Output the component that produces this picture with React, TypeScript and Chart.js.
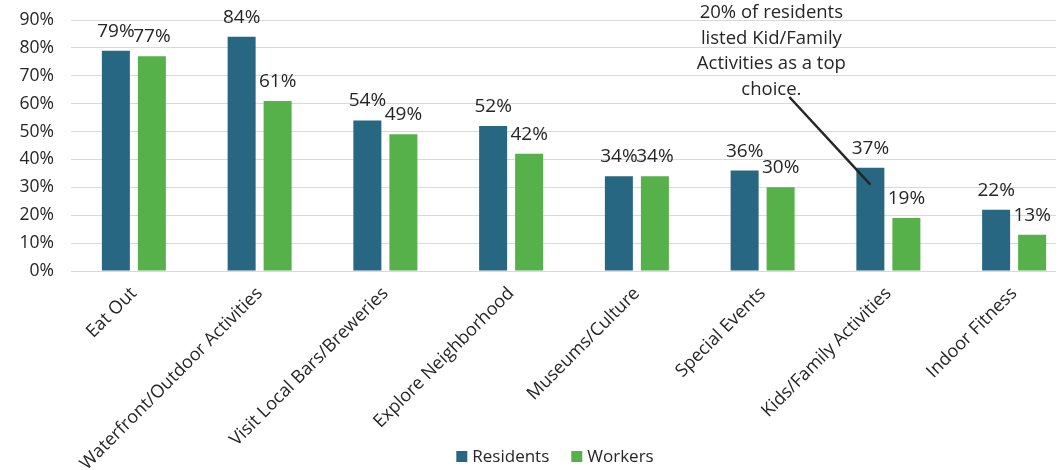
import React, { useEffect, useRef } from "react";
import { Chart, registerables } from "chart.js";

Chart.register(...registerables);

const CATEGORIES = [
  "Eat Out",
  "Waterfront/Outdoor Activities",
  "Visit Local Bars/Breweries",
  "Explore Neighborhood",
  "Museums/Culture",
  "Special Events",
  "Kids/Family Activities",
  "Indoor Fitness",
];
const RESIDENTS = [79, 84, 54, 52, 34, 36, 37, 22];
const WORKERS = [77, 61, 49, 42, 34, 30, 19, 13];
const SERIES_NAMES = ["Residents", "Workers"];
const Y_TICKS = [0, 10, 20, 30, 40, 50, 60, 70, 80, 90];

const ANNOTATION_LINES = [
  "20% of residents",
  "listed Kid/Family",
  "Activities as a top",
  "choice.",
];
const ANNOTATION_CATEGORY = "Kids/Family Activities";
const ANNOTATION_POINT_VALUE = 31;

const FONT = "'Open Sans', 'Noto Sans', sans-serif";
const TEXT = "#262626";
const C_RES = "#276782";
const C_WRK = "#56B14A";

const dataLabels = {
  id: "dataLabels",
  afterDatasetsDraw(chart: any) {
    const ctx = chart.ctx;
    ctx.save();
    ctx.font = `19px ${FONT}`;
    ctx.fillStyle = TEXT;
    ctx.textAlign = "center";
    ctx.textBaseline = "alphabetic";
    chart.data.datasets.forEach((ds: any, di: number) => {
      const meta = chart.getDatasetMeta(di);
      meta.data.forEach((el: any, i: number) => {
        ctx.fillText(ds.data[i] + "%", el.x, el.y - 14);
      });
    });
    ctx.restore();
  },
};

const annotation = {
  id: "annotation",
  afterDraw(chart: any) {
    const ctx = chart.ctx;
    const idx = CATEGORIES.indexOf(ANNOTATION_CATEGORY);
    const el = chart.getDatasetMeta(0).data[idx];
    if (!el) return;
    const top = chart.chartArea.top;
    const ex = el.x;
    const ey = chart.scales.y.getPixelForValue(ANNOTATION_POINT_VALUE);
    ctx.save();
    ctx.strokeStyle = TEXT;
    ctx.lineWidth = 2.5;
    ctx.beginPath();
    ctx.moveTo(ex - 81, top + 77);
    ctx.lineTo(ex, ey);
    ctx.stroke();
    ctx.font = `18.5px ${FONT}`;
    ctx.fillStyle = TEXT;
    ctx.textAlign = "center";
    ctx.textBaseline = "alphabetic";
    ANNOTATION_LINES.forEach((line, k) => {
      ctx.fillText(line, ex - 99, top - 2 + 25.5 * k);
    });
    ctx.restore();
  },
};

const customLegend = {
  id: "customLegend",
  afterDraw(chart: any) {
    const ctx = chart.ctx;
    ctx.save();
    ctx.font = `17px ${FONT}`;
    ctx.textBaseline = "alphabetic";
    ctx.textAlign = "left";
    const box = 11;
    const gap = 5;
    const itemGap = 22;
    const items = chart.data.datasets.map((ds: any) => ({
      label: ds.label,
      color: ds.backgroundColor,
      w: ctx.measureText(ds.label).width,
    }));
    const total =
      items.reduce((s: number, it: any) => s + box + gap + it.w, 0) +
      itemGap * (items.length - 1);
    let x = 555 - total / 2;
    const boxTop = 451;
    items.forEach((it: any) => {
      ctx.fillStyle = it.color;
      ctx.fillRect(x, boxTop, box, box);
      x += box + gap;
      ctx.fillStyle = TEXT;
      ctx.fillText(it.label, x, boxTop + 11);
      x += it.w + itemGap;
    });
    ctx.restore();
  },
};

export default function App() {
  const ref = useRef<HTMLCanvasElement | null>(null);
  useEffect(() => {
    if (!ref.current) return;
    const chart = new Chart(ref.current, {
      type: "bar",
      data: {
        labels: CATEGORIES,
        datasets: [
          {
            label: SERIES_NAMES[0],
            data: RESIDENTS,
            backgroundColor: C_RES,
            categoryPercentage: 0.5726,
            barPercentage: 0.778,
          },
          {
            label: SERIES_NAMES[1],
            data: WORKERS,
            backgroundColor: C_WRK,
            categoryPercentage: 0.5726,
            barPercentage: 0.778,
          },
        ],
      },
      options: {
        animation: false,
        responsive: false,
        devicePixelRatio: 1,
        layout: { padding: { top: 20, left: 0, right: 8, bottom: 0 } },
        plugins: {
          legend: { display: false },
          tooltip: { enabled: false },
        },
        scales: {
          x: {
            grid: { display: false, drawTicks: false },
            border: { display: true, color: "#d9d9d9", width: 1 },
            ticks: {
              autoSkip: false,
              maxRotation: 45,
              minRotation: 45,
              padding: 12,
              color: TEXT,
              font: { family: FONT, size: 18 },
            },
            afterFit(scale: any) {
              scale.height = 470 - 271;
              scale.paddingTop = 0;
            },
          },
          y: {
            min: 0,
            max: 90,
            afterBuildTicks(scale: any) {
              scale.ticks = Y_TICKS.map((v) => ({ value: v }));
            },
            grid: { color: "#d9d9d9", lineWidth: 1, drawTicks: false },
            border: { display: false },
            ticks: {
              padding: 17,
              color: TEXT,
              font: { family: FONT, size: 17.5 },
              callback: (v: any) => v + "%",
            },
            afterFit(scale: any) {
              scale.width = 71;
              scale.paddingTop = 0;
              scale.paddingBottom = 0;
            },
          },
        },
      },
      plugins: [dataLabels, annotation, customLegend],
    });
    return () => chart.destroy();
  }, []);
  return (
    <div
      style={{
        position: "fixed",
        left: 0,
        top: 0,
        width: 1056,
        height: 470,
        overflow: "hidden",
        background: "#fff",
      }}
    >
      <canvas ref={ref} width={1085} height={470} style={{ display: "block" }} />
    </div>
  );
}
